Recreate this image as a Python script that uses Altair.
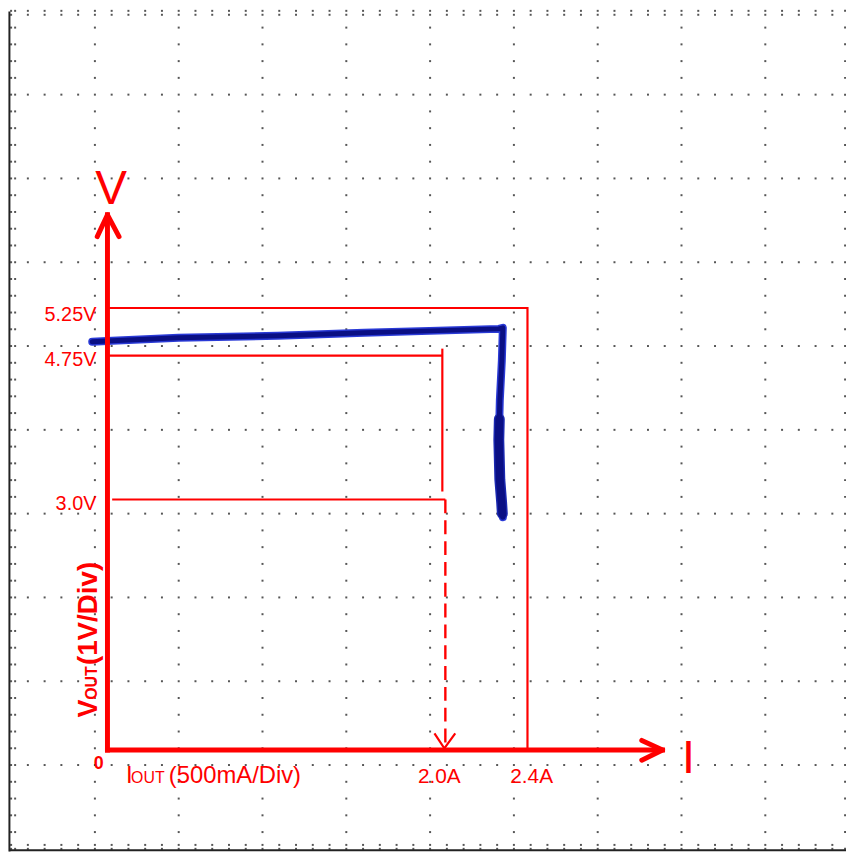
import altair as alt
import pandas as pd

# ---------------- data (current in A, voltage in V) ----------------
# scope graticule
GRID_I0 = -0.575      # left graticule line (A)
GRID_V0 = -1.179      # bottom graticule line (V)
DIV_I = 0.5           # 500 mA / Div
DIV_V = 1.0           # 1 V / Div
N_DIV = 10
N_MINOR = 5

# measured V-I curve (blue trace)
curve_I = [-0.091, 0.028, 0.424, 1.016, 1.531, 1.921, 2.335, 2.359,
           2.353, 2.341, 2.335, 2.341, 2.353, 2.359]
curve_V = [4.872, 4.884, 4.920, 4.943, 4.979, 5.002, 5.026, 5.038,
           4.647, 4.174, 3.701, 3.228, 2.932, 2.778]
fold_thick_I = [2.338, 2.335, 2.341, 2.352, 2.356]
fold_thick_V = [3.95, 3.701, 3.228, 2.95, 2.82]

# limit annotations
hi_V, hi_I = 5.275, 2.506          # 5.25V / 2.4A box
lo_V, lo_I = 4.707, 1.998          # 4.75V line and its drop
lo_drop_V = [4.79, 3.085]
fold_V, fold_I0, fold_I = 2.99, 0.028, 2.016   # 3.0V line and 2.0A drop
fold_tip_V = 0.02

# red axes
v_axis_top = 6.387
i_axis_end = 3.312

label_text = ["5.25V", "4.75V", "3.0V", "0", "2.0A", "2.4A"]

# ---------------- view ----------------
W, H = 845, 847
X_DOM = [-0.5935, 4.4065]
Y_DOM = [8.813 - H / 84.5, 8.813]
xs = alt.Scale(domain=X_DOM, nice=False, zero=False)
ys = alt.Scale(domain=Y_DOM, nice=False, zero=False)
X = alt.X("I:Q", scale=xs, axis=None)
Y = alt.Y("V:Q", scale=ys, axis=None)
RED = "#ff0000"

# graticule dots
rows = []
minor_I = [GRID_I0 + j * DIV_I / N_MINOR for j in range(N_DIV * N_MINOR + 1)]
minor_V = [GRID_V0 + j * DIV_V / N_MINOR for j in range(N_DIV * N_MINOR + 1)]
major_I = [GRID_I0 + k * DIV_I for k in range(N_DIV + 1)]
major_V = [GRID_V0 + k * DIV_V for k in range(N_DIV + 1)]
for gi in major_I:
    for v in minor_V:
        rows.append((round(gi, 4), round(v, 4)))
for gv in major_V:
    for i in minor_I:
        rows.append((round(i, 4), round(gv, 4)))
tI, tV = 0.024, 0.047
for i in minor_I:
    rows.append((round(i, 4), round(major_V[-1] - tV, 4)))
    rows.append((round(i, 4), round(major_V[0] + tV, 4)))
for v in minor_V:
    rows.append((round(major_I[0] + tI, 4), round(v, 4)))
    rows.append((round(major_I[-1] - tI, 4), round(v, 4)))
dots = pd.DataFrame(sorted(set(rows)), columns=["I", "V"])

dots_layer = alt.Chart(dots).mark_square(size=4, color="#555555", opacity=1).encode(x=X, y=Y)

bottom_V = -1.195
frame = pd.DataFrame({"I": [-0.585, -0.585], "V": [Y_DOM[0], bottom_V],
                      "I2": [-0.585, X_DOM[1]], "V2": [Y_DOM[1], bottom_V]})
frame_layer = alt.Chart(frame).mark_rule(color="#222222", strokeWidth=2).encode(
    x=X, y=Y, x2="I2:Q", y2="V2:Q")

def seg_df(segs):
    r = []
    for s, pts in enumerate(segs):
        for o, (i, v) in enumerate(pts):
            r.append({"I": i, "V": v, "seg": s, "o": o})
    return pd.DataFrame(r)

def line_layer(df, **kw):
    return alt.Chart(df).mark_line(**kw).encode(
        x=X, y=Y, detail="seg:N", order=alt.Order("o:Q"))

curve = seg_df([list(zip(curve_I, curve_V))])
thick = seg_df([list(zip(fold_thick_I, fold_thick_V))])
blue_layers = [
    line_layer(curve, color="#2a3ad6", strokeWidth=8, strokeCap="round", strokeJoin="round"),
    line_layer(thick, color="#1a28b0", strokeWidth=11, strokeCap="round", strokeJoin="round"),
    line_layer(curve, color="#0a0f84", strokeWidth=5, strokeCap="round", strokeJoin="round"),
    line_layer(thick, color="#0a0f84", strokeWidth=8, strokeCap="round", strokeJoin="round"),
]

thin = seg_df([
    [(0, hi_V), (hi_I, hi_V), (hi_I, 0)],
    [(0, lo_V), (lo_I, lo_V)],
    [(lo_I, lo_drop_V[0]), (lo_I, lo_drop_V[1])],
    [(fold_I0, fold_V), (fold_I, fold_V)],
    [(fold_I - 0.065, 0.198), (fold_I - 0.006, fold_tip_V), (fold_I + 0.059, 0.198)],
])
dashed = seg_df([[(fold_I, fold_V), (fold_I, fold_tip_V)]])
axes = seg_df([
    [(0, 0), (0, v_axis_top)],
    [(0, 0), (i_axis_end, 0)],
])
heads = seg_df([
    [(-0.061, 6.127), (0, v_axis_top), (0.069, 6.127)],
    [(3.188, 0.115), (i_axis_end, 0), (3.188, -0.122)],
])
red_layers = [
    line_layer(thin, color=RED, strokeWidth=2.2),
    line_layer(dashed, color=RED, strokeWidth=2.4, strokeDash=[14, 7]),
    line_layer(axes, color=RED, strokeWidth=5, strokeCap="square"),
    line_layer(heads, color=RED, strokeWidth=5, strokeCap="round", strokeJoin="round"),
]

FONT = "Liberation Sans"

def txt(t, i, v, size, align="center", weight="normal", angle=0):
    df = pd.DataFrame({"I": [i], "V": [v], "t": [t]})
    kw = dict(color=RED, font=FONT, fontSize=size, align=align,
              baseline="alphabetic", fontWeight=weight)
    if angle:
        kw["angle"] = angle
    return alt.Chart(df).mark_text(**kw).encode(x=X, y=Y, text="t:N")

text_layers = [
    txt("V", 0.022, 6.515, 48),
    txt("I", 3.466, -0.276, 47),
    txt(label_text[0], -0.066, 5.121, 20, align="right"),
    txt(label_text[1], -0.066, 4.577, 20, align="right"),
    txt(label_text[2], -0.066, 2.860, 20, align="right"),
    txt(label_text[3], -0.052, -0.228, 18, weight="bold"),
    txt(label_text[4], 1.980, -0.394, 21),
    txt(label_text[5], 2.531, -0.394, 21),
    txt("I", 0.111, -0.394, 24, align="left"),
    txt("OUT", 0.141, -0.394, 16, align="left"),
    txt("(500mA/Div)", 0.366, -0.394, 24, align="left"),
    txt("V", -0.061, 0.387, 27, align="left", weight="bold", angle=270),
    txt("OUT", -0.061, 0.600, 16, align="left", weight="bold", angle=270),
    txt("(1V/Div)", -0.061, 1.014, 28, align="left", weight="bold", angle=270),
]

chart = alt.layer(
    dots_layer, frame_layer, *blue_layers, *red_layers, *text_layers
).properties(
    width=W, height=H, padding=0,
    autosize=alt.AutoSizeParams(type="none"),
).configure_view(stroke=None)

chart.save("out.html", embed_options={"renderer": "svg", "actions": False})
